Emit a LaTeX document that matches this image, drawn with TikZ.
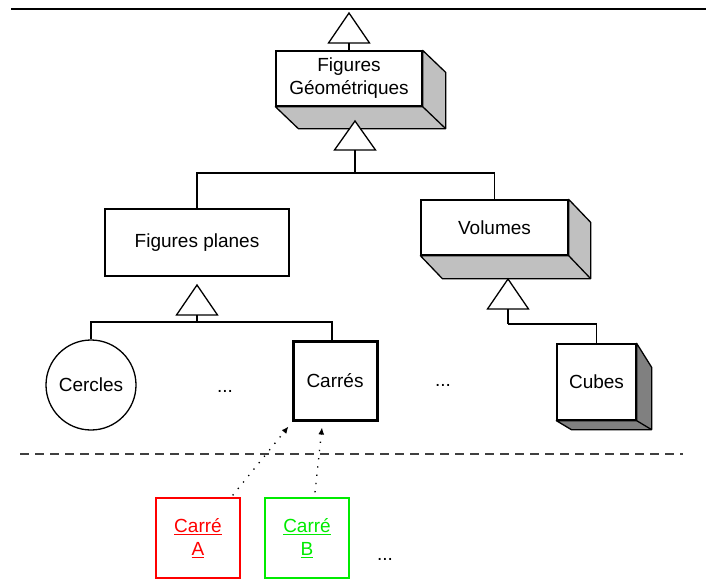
\documentclass[tikz,border=0pt]{standalone}
\usepackage{fontspec}
\setmainfont{Liberation Sans}
\usetikzlibrary{arrows.meta}
\definecolor{ombre}{RGB}{192,192,192}
\definecolor{ombrecube}{RGB}{128,128,128}
\definecolor{rouge}{RGB}{255,0,0}
\definecolor{vert}{RGB}{0,235,0}
\tikzset{
  boite/.style={shape=rectangle,draw,fill=white,line width=1.3pt,align=center,font=\fontsize{19}{23}\selectfont},
  rond/.style={shape=circle,draw,fill=white,line width=1.3pt,inner sep=0pt,minimum size=90pt,font=\fontsize{19}{23}\selectfont},
  objet/.style={shape=rectangle,draw=#1,text=#1,line width=1.3pt,align=center,minimum width=84pt,minimum height=80pt,font=\fontsize{19}{23}\selectfont},
  face/.style={draw,fill=ombre,line width=1.3pt,line join=round},
  heritage/.style={draw,fill=white,line width=1.3pt,line join=miter},
  lien/.style={line width=1.3pt},
  coude/.style={to path={-| (\tikztotarget)}},
  instance/.style={line width=1.3pt,dash pattern=on 1.3pt off 7pt,-{Latex[length=7pt,width=6pt]}},
  separation/.style={line width=2pt,black!75,dash pattern=on 9pt off 6pt},
  etc/.style={font=\fontsize{19}{23}\selectfont,inner sep=0pt}
}
\begin{document}
\begin{tikzpicture}[x=1pt,y=-1pt]
\useasboundingbox (0,0) rectangle (706,581);
\draw[line width=1.3pt] (11,9) -- (706,9);
% classes
\node(geo) at (349,78.5)[boite,minimum width=146pt,minimum height=55pt] {Figures\\Géométriques};
\node(plan) at (197,242.5)[boite,minimum width=184pt,minimum height=67pt] {Figures planes};
\node(vol) at (494.5,227.5)[boite,minimum width=147pt,minimum height=55pt] {Volumes};
\node(cercles) at (91,385)[rond] {Cercles};
\node(carres) at (335,380.5)[boite,line width=3pt,minimum width=84pt,minimum height=79pt] {Carrés};
\node(cubes) at (596.5,382)[boite,minimum width=79pt,minimum height=76pt] {Cubes};
\node(etc1) at (225,391)[etc] {...};
\node(etc2) at (443,385)[etc] {...};
% faces
\draw[face] (geo.south west) -- ++(23,22) -| ([shift={(23,22)}]geo.north east) -- (geo.north east) -- (geo.south east) -- cycle;
\draw[lien] (geo.south east) -- ++(23,22);
\draw[face] (vol.south west) -- ++(22,23) -| ([shift={(22,23)}]vol.north east) -- (vol.north east) -- (vol.south east) -- cycle;
\draw[lien] (vol.south east) -- ++(22,23);
\draw[face,fill=ombrecube] (cubes.north east) -- ++(15,24) |- ([shift={(15,9)}]cubes.south west) -- (cubes.south west) -- (cubes.south east) -- cycle;
\draw[lien] (cubes.south east) -- ++(15,9);
% heritage
\coordinate(t1) at (349,13);
\coordinate(t2) at (355,121);
\coordinate(t3) at (197,285);
\coordinate(t4) at (508,279);
\draw[heritage] (t1) -- ++(20.5,30) -- ++(-41,0) -- cycle;
\draw[heritage] (t2) -- ++(20.5,29) -- ++(-41,0) -- cycle;
\draw[heritage] (t3) -- ++(20.5,30) -- ++(-41,0) -- cycle;
\draw[heritage] (t4) -- ++(20.5,30) -- ++(-41,0) -- cycle;
\coordinate(b1) at (349,43);
\coordinate(b2) at (355,150);
\coordinate(b3) at (197,315);
\coordinate(b4) at (508,309);
\coordinate(j2) at (355,173);
\coordinate(j3) at (197,322);
\coordinate(j4) at (508,324);
\path [lien]
  (b1)      edge                 (geo.north)
  (b2)      edge                 (j2)
  (j2)      edge [coude]         (plan.north)
  (j2)      edge [coude]         (vol.north)
  (b3)      edge                 (j3)
  (j3)      edge [coude]         (cercles.north)
  (j3)      edge [coude]         ([xshift=-3pt]carres.north)
  (b4)      edge                 (j4)
  (j4)      edge [coude]         (cubes.north);
% objets
\draw[separation] (20,454) -- (683,454);
\node(carreA) at (198,538)[objet=rouge] {\underline{Carré}\\\underline{A}};
\node(carreB) at (307,538)[objet=vert] {\underline{Carré}\\\underline{B}};
\node(etc3) at (385,559)[etc] {...};
\path
  ([xshift=-8pt,yshift=2pt]carreA.north east) edge [instance] ([xshift=-3pt,yshift=-5pt]carres.south west)
  ([xshift=8pt,yshift=5pt]carreB.north)        edge [instance] ([xshift=-13pt,yshift=-6pt]carres.south);
\end{tikzpicture}
\end{document}
